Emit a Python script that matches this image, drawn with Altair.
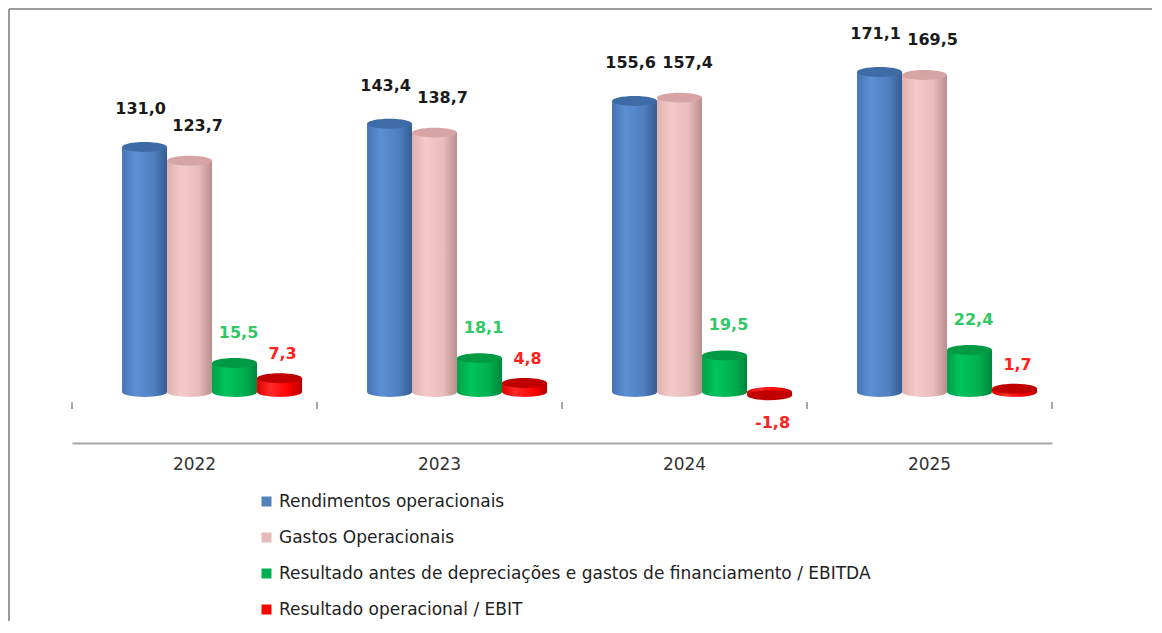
import altair as alt
import pandas as pd

years = ["2022", "2023", "2024", "2025"]
series = [
    "Rendimentos operacionais",
    "Gastos Operacionais",
    "Resultado antes de depreciações e gastos de financiamento / EBITDA",
    "Resultado operacional / EBIT",
]
rendimentos = [131.0, 143.4, 155.6, 171.1]
gastos = [123.7, 138.7, 157.4, 169.5]
ebitda = [15.5, 18.1, 19.5, 22.4]
ebit = [7.3, 4.8, -1.8, 1.7]

legend_colors = ["#4f81bd", "#e6b9b8", "#00b050", "#ff0000"]
label_colors = ["#1a1a1a", "#1a1a1a", "#2ec866", "#ff2020"]
top_colors = ["#3d6ba5", "#d6a4a3", "#009a45", "#c00000"]
body_stops = [
    ["#4674b4", "#5c90d4", "#4f80c0", "#355d92"],
    ["#dcb0af", "#f4cac9", "#e8bcbb", "#b88f8e"],
    ["#00a048", "#00c45c", "#00b050", "#00873b"],
    ["#e00000", "#ff2a2a", "#ff0000", "#b80000"],
]
label_dy = [-38, -35, -30, -24]
label_dx = [-4, 8, 4, 3]

rows = []
for s, vals in zip(series, [rendimentos, gastos, ebitda, ebit]):
    for y, v in zip(years, vals):
        rows.append({"year": y, "series": s, "value": v,
                     "label": f"{v:.1f}".replace(".", ",")})
df = pd.DataFrame(rows)

ELLIPSE = ("M-1,0C-1,-0.1215,-0.5523,-0.22,0,-0.22C0.5523,-0.22,1,-0.1215,1,0"
           "C1,0.1215,0.5523,0.22,0,0.22C-0.5523,0.22,-1,0.1215,-1,0Z")
SYM_SIZE = 2025

x_axis = alt.Axis(title=None, ticks=False, domain=True, domainColor="#a6a6a6",
                  domainWidth=2, labelFont="DejaVu Sans", labelFontSize=17,
                  labelColor="#333333", labelPadding=13, labelAngle=0, grid=False)
x_scale = alt.Scale(domain=years, paddingInner=0, paddingOuter=0)
x_enc = alt.X("year:N", scale=x_scale, axis=x_axis)
xo_enc = alt.XOffset("series:N", scale=alt.Scale(domain=series, paddingInner=0,
                                                 paddingOuter=0.722, align=0.77))
y_scale = alt.Scale(domain=[-27.3, 198.9], nice=False, zero=False)
y_enc = alt.Y("value:Q", scale=y_scale, axis=None, stack=None)

base = alt.Chart(df)
layers = []

for i, s in enumerate(series):
    grad = alt.LinearGradient(
        gradient="linear", x1=0, x2=1, y1=0, y2=0,
        stops=[alt.GradientStop(color=body_stops[i][0], offset=0),
               alt.GradientStop(color=body_stops[i][1], offset=0.3),
               alt.GradientStop(color=body_stops[i][2], offset=0.7),
               alt.GradientStop(color=body_stops[i][3], offset=1)])
    sub = base.transform_filter(alt.datum.series == s)
    bottom = sub.mark_point(shape=ELLIPSE, filled=True, size=SYM_SIZE, fill=grad,
                            opacity=1, strokeWidth=0).encode(
        x=x_enc, xOffset=xo_enc, y=alt.Y("zero:Q", scale=y_scale, axis=None)
    ).transform_calculate(zero="0")
    body = sub.mark_bar(fill=grad, strokeWidth=0).encode(
        x=x_enc, xOffset=xo_enc, y=y_enc, y2=alt.datum(0))
    top = sub.mark_point(shape=ELLIPSE, filled=True, size=SYM_SIZE,
                         fill=top_colors[i], opacity=1, strokeWidth=0).encode(
        x=x_enc, xOffset=xo_enc, y=y_enc)
    layers += [bottom, body, top]

for i, s in enumerate(series):
    pos = base.transform_filter((alt.datum.series == s) & (alt.datum.value >= 0))
    layers.append(pos.mark_text(font="DejaVu Sans", fontSize=16, fontWeight="bold",
                                color=label_colors[i], dy=label_dy[i], dx=label_dx[i],
                                baseline="middle").encode(
        x=x_enc, xOffset=xo_enc, y=y_enc, text="label:N"))
    neg = base.transform_filter((alt.datum.series == s) & (alt.datum.value < 0))
    layers.append(neg.mark_text(font="DejaVu Sans", fontSize=16, fontWeight="bold",
                                color=label_colors[i], dy=28, dx=3,
                                baseline="middle").encode(
        x=x_enc, xOffset=xo_enc, y=y_enc, text="label:N"))

# category boundary ticks
year_df = pd.DataFrame({"year": years})
layers.append(alt.Chart(year_df).mark_rule(color="#a6a6a6", strokeWidth=2).encode(
    x=alt.X("year:N", scale=x_scale, axis=x_axis, bandPosition=0),
    y=alt.value(382), y2=alt.value(389)))
layers.append(alt.Chart(year_df).transform_filter(alt.datum.year == years[-1])
              .mark_rule(color="#a6a6a6", strokeWidth=2).encode(
    x=alt.X("year:N", scale=x_scale, axis=x_axis, bandPosition=1),
    y=alt.value(382), y2=alt.value(389)))

# legend carrier
layers.append(base.mark_square(size=0).encode(
    x=x_enc, xOffset=xo_enc, y=y_enc,
    color=alt.Color("series:N", scale=alt.Scale(domain=series, range=legend_colors),
                    legend=alt.Legend(orient="none", legendX=186, legendY=473,
                                      direction="vertical", title=None,
                                      symbolType="square", symbolSize=100,
                                      symbolStrokeWidth=0, symbolOpacity=1,
                                      labelFont="DejaVu Sans", labelFontSize=17,
                                      labelColor="#222222", rowPadding=18,
                                      labelOffset=4, padding=0, labelLimit=900))))

# outer frame
frame_df = pd.DataFrame({"k": [0]})
layers.append(alt.Chart(frame_df).mark_rule(color="#9a9a9a", strokeWidth=2).encode(
    x=alt.value(-63), x2=alt.value(1082), y=alt.value(-11)))
layers.append(alt.Chart(frame_df).mark_rule(color="#9a9a9a", strokeWidth=2).encode(
    x=alt.value(-63), y=alt.value(-11), y2=alt.value(601)))

chart = alt.layer(*layers).properties(
    width=980, height=423,
    padding={"left": 64, "top": 12, "right": 100, "bottom": 178},
    autosize=alt.AutoSizeParams(type="none"),
).configure_view(stroke=None)

chart.save("out.html", embed_options={"renderer": "svg", "actions": False})
